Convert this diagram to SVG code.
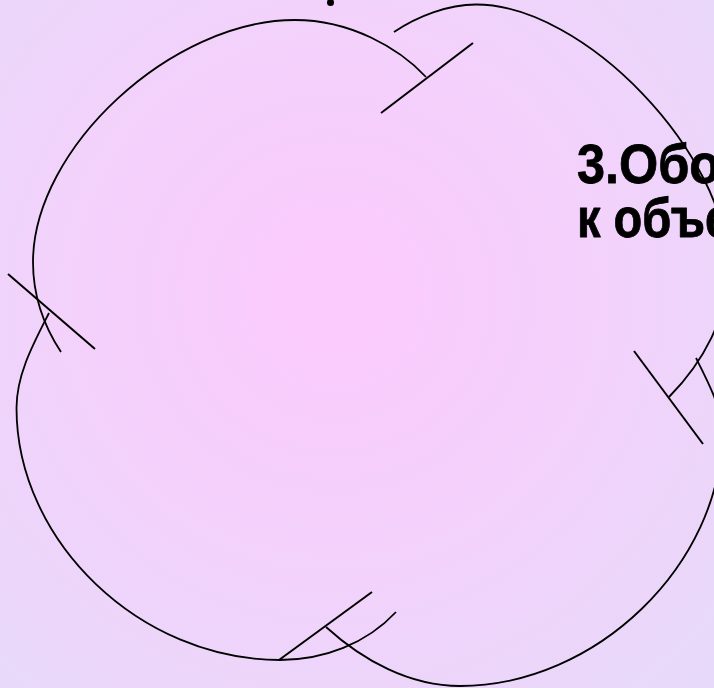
<svg xmlns="http://www.w3.org/2000/svg" width="714" height="688" viewBox="0 0 714 688">
  <defs>
    <radialGradient id="bg" gradientUnits="userSpaceOnUse" cx="335" cy="295" r="520">
      <stop offset="0" stop-color="#fccafd"/>
      <stop offset="0.55" stop-color="#f2d2fb"/>
      <stop offset="1" stop-color="#e7d9f9"/>
    </radialGradient>
    <style>
      .arc { fill: none; stroke: #000; stroke-width: 1.8; stroke-linecap: butt; }
      .tick { stroke: #000; stroke-width: 2; stroke-linecap: butt; }
      .lbl { font-family: "Liberation Sans", "Comic Sans MS", sans-serif; font-weight: bold; font-size: 56px; fill: #000; stroke: #000; stroke-width: 0.8; stroke-linejoin: round; }
    </style>
  </defs>
  <rect x="0" y="0" width="714" height="688" fill="url(#bg)"/>

  <g id="connectors">
    <path id="arc-1" class="arc" d="M 426 77 C 398.8 47.8 350 20 295 20 C 171.9 20 33 148.3 33 262 C 33 294 43.4 325.4 61 352"/>
    <path id="arc-2" class="arc" d="M 394 32 C 417.2 16.3 448 4.5 476 4.5 C 584.4 4.5 728 154.7 728 268 C 728 317 703.3 362.2 669 397"/>
    <path id="arc-3" class="arc" d="M 696 358 C 707.3 380.3 722 408 722 432 C 722 564 596.2 686 460 686 C 409.6 686 363.3 660.8 326 627"/>
    <path id="arc-4" class="arc" d="M 396 612 C 366.4 643.8 323.6 660 280 660 C 140.3 660 16.5 541.6 16.5 408 C 16.5 374.1 33.7 343.2 49 313"/>
    <line id="tick-top" class="tick" x1="381" y1="113" x2="473" y2="43"/>
    <line id="tick-right" class="tick" x1="634" y1="351" x2="703" y2="444"/>
    <line id="tick-bottom" class="tick" x1="279" y1="660" x2="372" y2="592"/>
    <line id="tick-left" class="tick" x1="8" y1="274" x2="95" y2="349"/>
  </g>

  <g id="top-fragment">
    <circle cx="330.5" cy="2.5" r="3.5" fill="#000"/>
  </g>

  <g id="label-3">
    <text class="lbl" transform="translate(577 183) scale(0.9 1)" x="0" y="0">3.Обо</text>
    <text class="lbl" transform="translate(577 237) scale(0.84 1)" x="0" y="0">к объе</text>
  </g>
</svg>
